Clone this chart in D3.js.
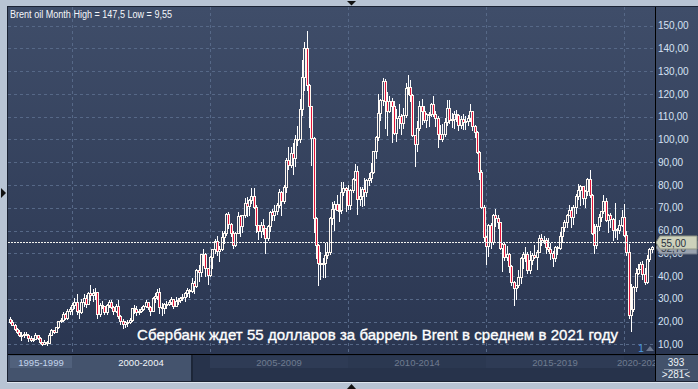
<!DOCTYPE html>
<html>
<head>
<meta charset="utf-8">
<script src="https://cdn.jsdelivr.net/npm/d3@7"></script>
<style>
  body { margin: 0; background: #b8c4d4; }
  svg { display: block; font-family: "Liberation Sans", Arial, sans-serif; }
</style>
</head>
<body>
<svg id="chart" width="698" height="389"></svg>
<script>
// monthly Brent candles [open, high, low, close], Oct 1997 .. Jan 2021
const ohlc1997 = [[21.0,21.9,19.5,19.9],[19.9,20.6,18.3,18.6],[18.6,19.0,16.5,16.9]];
const ohlc1998 = [[16.9,17.3,14.9,15.6],[15.6,16.2,13.6,14.0],[14.0,15.5,11.9,14.2],[14.2,15.3,13.0,14.7],[14.7,15.4,13.9,14.3],[14.3,14.4,11.6,12.7],[12.7,13.5,11.6,12.0],[12.0,12.6,11.3,12.3],[12.3,15.1,12.3,14.0],[14.0,14.3,12.2,12.8],[12.8,13.0,10.6,10.9],[10.9,11.2,9.55,10.1]];
const ohlc1999 = [[10.1,12.1,10.0,11.2],[11.2,11.5,9.9,10.4],[10.4,14.8,10.4,14.3],[14.3,16.9,14.0,16.5],[16.5,16.5,14.9,15.3],[15.3,17.8,15.2,17.6],[17.6,20.4,17.3,20.1],[20.1,21.5,19.7,20.5],[20.5,24.2,20.3,23.5],[23.5,23.9,20.9,21.5],[21.5,25.3,21.3,24.8],[24.8,26.6,23.2,25.5]];
const ohlc2000 = [[25.5,28.0,23.4,27.1],[27.1,30.5,26.0,28.7],[28.7,32.0,23.5,24.8],[24.8,25.0,21.5,24.0],[24.0,29.8,23.8,28.8],[28.8,32.0,27.0,30.4],[30.4,31.5,26.5,27.8],[27.8,32.8,27.5,32.5],[32.5,36.0,29.5,31.5],[31.5,34.5,29.0,32.6],[32.6,34.8,30.0,32.8],[32.8,32.9,21.5,23.2]];
const ohlc2001 = [[23.2,28.2,22.5,27.3],[27.3,29.0,26.0,26.7],[26.7,26.8,23.4,24.3],[24.3,27.9,23.2,27.4],[27.4,29.6,26.3,28.4],[28.4,29.6,26.0,26.6],[26.6,26.8,23.5,24.5],[24.5,27.6,24.2,26.7],[26.7,29.5,21.7,22.4],[22.4,22.8,19.0,20.3],[20.3,21.3,17.3,18.9],[18.9,20.4,17.8,19.8]];
const ohlc2002 = [[19.8,20.5,18.2,19.9],[19.9,21.5,19.3,20.8],[20.8,26.1,20.4,25.8],[25.8,27.3,23.8,25.6],[25.6,27.0,23.0,24.1],[24.1,25.4,23.5,24.5],[24.5,26.4,24.1,25.6],[25.6,27.1,25.2,26.8],[26.8,29.3,26.4,28.4],[28.4,28.8,25.6,26.4],[26.4,26.8,22.9,24.8],[24.8,31.0,24.6,30.3]];
const ohlc2003 = [[30.3,32.7,28.5,31.4],[31.4,34.1,30.1,32.9],[32.9,34.6,23.8,26.5],[26.5,28.2,23.0,25.8],[25.8,28.2,23.7,27.9],[27.9,29.0,26.0,27.5],[27.5,29.3,27.2,28.6],[28.6,30.9,27.8,29.7],[29.7,29.8,25.9,27.0],[27.0,30.9,26.9,28.9],[28.9,30.5,27.6,29.6],[29.6,30.6,28.5,30.2]];
const ohlc2004 = [[30.2,31.9,29.4,30.8],[30.8,32.8,29.1,32.6],[32.6,34.6,31.3,33.9],[33.9,34.5,30.6,33.5],[33.5,39.3,33.1,37.1],[37.1,38.0,32.6,35.4],[35.4,42.9,35.1,42.7],[42.7,45.0,38.0,41.7],[41.7,49.8,40.0,49.6],[49.6,52.0,45.0,49.8],[49.8,49.9,40.0,43.6],[43.6,43.7,36.5,40.5]];
const ohlc2005 = [[40.5,48.8,39.8,48.2],[48.2,52.0,43.5,51.8],[51.8,56.2,50.2,55.5],[55.5,57.5,49.3,51.2],[51.2,53.0,46.8,51.9],[51.9,60.0,51.3,57.1],[57.1,59.9,54.6,58.8],[58.8,67.8,58.1,67.2],[67.2,68.0,61.0,62.8],[62.8,63.3,57.6,59.1],[59.1,59.6,52.4,53.6],[53.6,59.4,53.4,58.9]];
const ohlc2006 = [[58.9,68.0,58.7,66.5],[66.5,66.9,57.5,61.8],[61.8,67.0,59.3,66.9],[66.9,74.5,66.0,72.0],[72.0,74.9,66.4,70.8],[70.8,73.9,66.6,73.6],[73.6,78.6,72.1,75.3],[75.3,78.7,69.7,70.3],[70.3,71.0,59.5,62.5],[62.5,62.6,56.4,59.9],[59.9,63.6,57.2,62.3],[62.3,65.0,58.3,60.9]];
const ohlc2007 = [[60.9,61.3,49.9,56.6],[56.6,62.5,55.9,61.9],[61.9,68.5,59.8,68.1],[68.1,69.6,64.6,66.9],[66.9,71.2,64.6,68.4],[68.4,72.0,67.2,71.4],[71.4,78.4,70.5,76.9],[76.9,77.5,66.6,73.0],[73.0,80.2,72.2,79.2],[79.2,91.9,76.8,91.0],[91.0,96.7,87.1,88.6],[88.6,96.6,87.9,93.9]];
const ohlc2008 = [[93.9,98.5,84.8,91.8],[91.8,101.8,88.5,100.1],[100.1,106.1,97.7,100.3],[100.3,117.6,98.9,113.5],[113.5,135.1,110.6,127.4],[127.4,142.7,121.8,140.0],[140.0,147.5,121.6,124.1],[124.1,124.3,105.6,114.6],[114.6,114.8,88.9,100.7],[100.7,101.0,59.4,65.3],[65.3,66.0,47.8,53.5],[53.5,54.2,36.2,45.6]];
const ohlc2009 = [[45.6,50.5,38.8,45.9],[45.9,47.9,39.5,45.6],[45.6,54.6,39.4,49.2],[49.2,54.5,47.9,50.6],[50.6,66.1,49.8,65.4],[65.4,72.4,62.7,69.3],[69.3,72.8,60.2,71.7],[71.7,75.6,68.8,69.0],[69.0,71.8,64.1,69.1],[69.1,81.3,67.9,77.0],[77.0,81.5,75.5,78.5],[78.5,79.1,68.6,77.9]];
const ohlc2010 = [[77.9,80.1,69.6,71.2],[71.2,78.2,69.6,77.6],[77.6,83.1,76.7,82.7],[82.7,89.0,82.3,86.2],[86.2,88.2,67.2,74.0],[74.0,79.3,71.0,75.0],[75.0,78.9,70.9,78.4],[78.4,83.2,71.3,76.9],[76.9,82.6,75.0,82.3],[82.3,85.3,80.0,83.2],[83.2,89.8,81.2,85.9],[85.9,95.0,85.1,94.8]];
const ohlc2011 = [[94.8,101.7,92.0,101.0],[101.0,119.8,99.6,111.8],[111.8,117.8,108.5,117.4],[117.4,127.0,115.2,125.9],[125.9,126.6,105.0,116.7],[116.7,121.0,102.0,112.5],[112.5,119.0,111.9,116.7],[116.7,118.0,98.7,114.9],[114.9,117.0,102.6,102.8],[102.8,113.5,99.3,109.6],[109.6,115.6,104.9,110.5],[110.5,111.0,102.4,107.4]];
const ohlc2012 = [[107.4,114.0,105.0,110.9],[110.9,125.0,110.0,122.7],[122.7,128.4,120.0,122.9],[122.9,126.0,117.0,119.5],[119.5,119.8,101.6,101.9],[101.9,102.0,88.5,97.8],[97.8,108.0,95.0,105.0],[105.0,116.9,104.3,114.6],[114.6,117.9,107.0,112.4],[112.4,114.8,107.6,108.7],[108.7,111.5,105.5,111.2],[111.2,112.0,106.0,111.1]];
const ohlc2013 = [[111.1,116.0,110.3,115.6],[115.6,119.2,110.4,111.4],[111.4,112.5,106.0,109.5],[109.5,110.2,96.8,102.4],[102.4,106.2,100.0,100.4],[100.4,106.6,99.3,102.2],[102.2,109.3,101.6,107.7],[107.7,117.3,106.5,114.0],[114.0,117.3,107.3,108.4],[108.4,111.8,105.4,108.8],[108.8,112.6,104.9,111.0],[111.0,112.8,107.9,110.8]];
const ohlc2014 = [[110.8,111.0,104.3,106.4],[106.4,110.5,105.2,109.1],[109.1,111.0,104.8,107.8],[107.8,110.3,104.6,108.1],[108.1,110.6,106.3,109.4],[109.4,115.7,108.1,112.4],[112.4,112.6,104.2,106.0],[106.0,106.2,101.3,103.2],[103.2,103.6,94.1,94.7],[94.7,95.0,82.6,85.9],[85.9,86.4,69.8,70.2],[70.2,71.3,55.2,57.3]];
const ohlc2015 = [[57.3,57.8,45.2,53.0],[53.0,63.0,48.6,62.6],[62.6,63.2,52.5,55.1],[55.1,67.1,54.1,66.8],[66.8,69.6,62.0,65.6],[65.6,66.6,61.0,63.6],[63.6,63.9,52.0,52.2],[52.2,54.7,42.2,54.2],[54.2,54.5,46.9,48.4],[48.4,53.1,47.0,49.6],[49.6,50.1,41.9,44.6],[44.6,44.9,36.0,37.3]];
const ohlc2016 = [[37.3,38.0,27.1,34.7],[34.7,36.1,30.0,36.0],[36.0,42.5,35.2,39.6],[39.6,48.5,36.8,48.1],[48.1,50.5,43.4,49.7],[49.7,52.9,46.7,49.7],[49.7,50.6,41.5,42.5],[42.5,50.9,41.5,47.0],[47.0,49.9,45.1,49.1],[49.1,53.7,47.9,48.3],[48.3,51.4,43.1,50.5],[50.5,57.9,50.5,56.8]];
const ohlc2017 = [[56.8,58.4,53.6,55.7],[55.7,57.5,54.5,56.0],[56.0,56.8,50.3,52.8],[52.8,56.7,50.8,51.7],[51.7,54.7,47.6,50.3],[50.3,50.9,44.4,47.9],[47.9,53.0,46.6,52.7],[52.7,53.1,49.7,52.4],[52.4,59.5,52.0,57.5],[57.5,61.7,54.9,61.4],[61.4,64.7,59.9,63.6],[63.6,67.1,61.6,66.9]];
const ohlc2018 = [[66.9,71.3,66.6,69.1],[69.1,70.5,61.6,65.8],[65.8,71.0,62.9,70.3],[70.3,75.9,67.5,75.2],[75.2,80.5,73.8,77.6],[77.6,80.0,71.4,79.4],[79.4,79.5,71.8,74.3],[74.3,78.0,70.3,77.4],[77.4,83.0,75.7,82.7],[82.7,86.7,74.7,75.5],[75.5,76.1,58.4,58.7],[58.7,63.0,50.0,53.8]];
const ohlc2019 = [[53.8,62.7,52.5,61.9],[61.9,67.3,60.3,66.0],[66.0,68.7,64.3,68.4],[68.4,75.6,67.8,72.8],[72.8,74.5,64.1,64.5],[64.5,67.2,59.5,66.6],[66.6,67.5,61.5,65.2],[65.2,65.6,55.9,60.4],[60.4,71.9,57.2,60.8],[60.8,61.1,56.2,60.2],[60.2,64.5,59.1,62.4],[62.4,68.9,62.1,66.0]];
const ohlc2020 = [[66.0,71.8,57.7,58.2],[58.2,59.9,49.1,50.5],[50.5,53.9,21.7,22.7],[22.7,36.3,15.98,25.3],[25.3,35.8,24.7,35.3],[35.3,43.4,33.6,41.2],[41.2,45.2,41.0,43.3],[43.3,46.2,42.9,45.3],[45.3,46.5,38.8,40.9],[40.9,43.5,36.6,37.5],[37.5,49.1,36.9,47.6],[47.6,52.5,46.5,51.8]];
const ohlc2021 = [[51.8,53.4,50.4,52.7]];

const yTicks = [10, 20, 30, 40, 50, 60, 70, 80, 90, 100, 110, 120, 130, 140, 150];
const periodLabels = ["1995-1999", "2000-2004", "2005-2009", "2010-2014", "2015-2019", "2020-202"];
const periodStartIdx = [-33, 27, 87, 147, 207, 267];   // month index of Jan of each period (0 = Oct 1997)
const targetLevel = 55;
const lastPrice = 52.70;
const titleText = "Brent oil Month High = 147,5 Low = 9,55";
const headline = "Сбербанк ждет 55 долларов за баррель Brent в среднем в 2021 году";

const candles = [].concat(ohlc1997, ohlc1998, ohlc1999, ohlc2000, ohlc2001, ohlc2002, ohlc2003,
  ohlc2004, ohlc2005, ohlc2006, ohlc2007, ohlc2008, ohlc2009, ohlc2010, ohlc2011, ohlc2012,
  ohlc2013, ohlc2014, ohlc2015, ohlc2016, ohlc2017, ohlc2018, ohlc2019, ohlc2020, ohlc2021)
  .map((d, i) => ({ i: i, o: d[0], h: d[1], l: d[2], c: d[3] }));

const svg = d3.select('#chart');
const W = 698, H = 389;
const plotL = 8, plotR = 655, plotT = 7, plotB = 354, stripB = 381;

let x = d3.scaleLinear().domain([27, 267]).range([72, 624]),
    y = d3.scaleLinear().domain([5.74, 158.2]).range([plotB, plotT]);

let defs = svg.append('defs');
let grad = defs.append('linearGradient').attr('id', 'bg').attr('x1', 0).attr('y1', 0).attr('x2', 0).attr('y2', 1);
grad.append('stop').attr('offset', '0%').attr('stop-color', '#3f4d69');
grad.append('stop').attr('offset', '100%').attr('stop-color', '#2a3651');
defs.append('clipPath').attr('id', 'plotclip').append('rect')
  .attr('x', plotL).attr('y', plotT).attr('width', plotR - plotL).attr('height', plotB - plotT);
defs.append('clipPath').attr('id', 'stripclip').append('rect')
  .attr('x', plotL).attr('y', plotB).attr('width', plotR - plotL).attr('height', 30);
defs.append('clipPath').attr('id', 'tagclip').append('rect')
  .attr('x', plotR).attr('y', Math.round(y(targetLevel)) + 7).attr('width', W - plotR).attr('height', 20);

// outer frame
svg.append('rect').attr('width', W).attr('height', H).attr('fill', '#b8c4d4');
svg.append('rect').attr('x', 7).attr('y', 6).attr('width', W - 7).attr('height', stripB - 5).attr('fill', '#1b2334');
svg.append('rect').attr('x', plotL).attr('y', plotT).attr('width', W - plotL).attr('height', plotB - plotT).attr('fill', 'url(#bg)');
svg.append('line').attr('x1', 7).attr('x2', W).attr('y1', stripB + 1.5).attr('y2', stripB + 1.5).attr('stroke', '#dfe6ef');

// grid
let grid = svg.append('g').attr('shape-rendering', 'crispEdges');
grid.selectAll('line.h').data(yTicks).enter().append('line')
  .attr('x1', plotL).attr('x2', plotR)
  .attr('y1', d => Math.round(y(d)) + 0.5).attr('y2', d => Math.round(y(d)) + 0.5)
  .attr('stroke', '#566887').attr('stroke-dasharray', '3,3');
grid.selectAll('line.v').data(periodStartIdx.slice(1)).enter().append('line')
  .attr('x1', d => Math.round(x(d)) + 0.5).attr('x2', d => Math.round(x(d)) + 0.5)
  .attr('y1', plotT).attr('y2', plotB)
  .attr('stroke', '#566887').attr('stroke-dasharray', '3,3');

// candles: hollow white when rising, red body when falling
let cg = svg.append('g').attr('clip-path', 'url(#plotclip)').attr('shape-rendering', 'crispEdges');
candles.forEach(function(d){
  let cx = Math.round(x(d.i)),
      top = Math.round(y(Math.max(d.o, d.c))),
      bot = Math.round(y(Math.min(d.o, d.c)));
  if (bot - top < 1) bot = top + 1;
  cg.append('line').attr('x1', cx + 0.5).attr('x2', cx + 0.5)
    .attr('y1', Math.round(y(d.h))).attr('y2', top).attr('stroke', '#ffffff');
  cg.append('line').attr('x1', cx + 0.5).attr('x2', cx + 0.5)
    .attr('y1', bot + 1).attr('y2', Math.round(y(d.l)) + 1).attr('stroke', '#ffffff');
  cg.append('rect').attr('x', cx - 0.5).attr('width', 2)
    .attr('y', top + 0.5).attr('height', bot - top)
    .attr('fill', d.c < d.o ? '#e3143c' : 'none')
    .attr('stroke', '#fff8f0').attr('stroke-width', 1);
});

// target level line
svg.append('line').attr('x1', plotL).attr('x2', plotR)
  .attr('y1', Math.round(y(targetLevel)) + 0.5).attr('y2', Math.round(y(targetLevel)) + 0.5)
  .attr('stroke', '#f2f2ee').attr('stroke-dasharray', '2,1').attr('shape-rendering', 'crispEdges');

// headline
svg.append('text').attr('x', 137).attr('y', 340)
  .attr('textLength', 481).attr('lengthAdjust', 'spacing')
  .attr('fill', '#ffffff').attr('font-size', 15)
  .attr('stroke', '#ffffff').attr('stroke-width', 0.35)
  .text(headline);

// title
svg.append('text').attr('x', 10).attr('y', 18)
  .attr('fill', '#f4f6fa').attr('font-size', 10)
  .attr('textLength', 162).attr('lengthAdjust', 'spacingAndGlyphs')
  .text(titleText);

// right axis
let axis = svg.append('g').attr('transform', 'translate(' + plotR + ',0)')
  .call(d3.axisRight(y).tickValues(yTicks).tickSize(0).tickPadding(3)
    .tickFormat(d => d3.format('.2f')(d).replace('.', ',')));
axis.select('.domain').remove();
axis.selectAll('text').attr('fill', '#d6e2f4').attr('font-size', 10)
  .attr('font-family', '"Liberation Sans", Arial, sans-serif');

// price tags on the axis
function priceTag(v, fill, stroke, color, clip){
  let cy = Math.round(y(v)) + 0.5;
  let g = svg.append('g');
  g.append('path')
    .attr('d', 'M' + (plotR + 1) + ',' + cy + ' L' + (plotR + 5) + ',' + (cy - 6.5) + ' L' + (W - 1) + ',' + (cy - 6.5) +
               ' L' + (W - 1) + ',' + (cy + 6.5) + ' L' + (plotR + 5) + ',' + (cy + 6.5) + ' Z')
    .attr('fill', fill).attr('stroke', stroke);
  let t = g.append('text').attr('x', plotR + 6).attr('y', cy + 4)
    .attr('fill', color).attr('font-size', 10).text(d3.format('.2f')(v).replace('.', ','));
  if (clip) t.attr('clip-path', 'url(#' + clip + ')');
}
priceTag(lastPrice, '#9aa2af', '#6f7785', '#2d3442', 'tagclip');
priceTag(targetLevel, '#cdd1bb', '#8e9486', '#27303d');

// period strip
let strip = svg.append('g').attr('shape-rendering', 'crispEdges');
strip.append('rect').attr('x', plotL).attr('y', plotB + 1).attr('width', W - plotL).attr('height', stripB - plotB - 1).attr('fill', '#27334b');
strip.append('rect').attr('x', plotL).attr('y', plotB + 1).attr('width', 183).attr('height', stripB - plotB - 1).attr('fill', '#44536d');
strip.append('rect').attr('x', 191).attr('y', plotB + 1).attr('width', 2).attr('height', stripB - plotB - 1).attr('fill', '#1c2638');
strip.append('rect').attr('x', plotR).attr('y', plotB + 1).attr('width', W - plotR).attr('height', stripB - plotB - 1).attr('fill', '#43526b');

periodLabels.forEach(function(lbl, k){
  let x0 = k === 0 ? 10 : Math.round(x(periodStartIdx[k])),
      x1 = k === periodLabels.length - 1 ? plotR : Math.round(x(periodStartIdx[k + 1] || 327));
  if (k === 0) x1 = 72;
  if (k !== 1) {
    strip.append('rect').attr('x', x0).attr('y', plotB + 2).attr('width', x1 - x0).attr('height', 12)
      .attr('fill', k === 0 ? '#51617c' : (k % 2 ? '#2b3851' : '#2e3b55'));
  }
  let tx = k === 1 ? 141 : (x0 + x1) / 2;
  if (k === periodLabels.length - 1) tx = 637;
  strip.append('text').attr('x', tx).attr('y', plotB + 12).attr('text-anchor', 'middle')
    .attr('font-size', 9.5)
    .attr('fill', k === 0 ? '#c3d4ec' : (k === 1 ? '#f2f5fa' : '#6f7b90'))
    .attr('clip-path', 'url(#stripclip)')
    .text(lbl);
});

svg.append('text').attr('x', 676).attr('y', plotB + 12).attr('text-anchor', 'middle')
  .attr('font-size', 10).attr('fill', '#eef2f8').text('393');
svg.append('line').attr('x1', 664).attr('x2', 688).attr('y1', plotB + 15.5).attr('y2', plotB + 15.5).attr('stroke', '#8a96a8');
svg.append('text').attr('x', 676).attr('y', plotB + 24).attr('text-anchor', 'middle')
  .attr('font-size', 10).attr('fill', '#eef2f8').text('>281<');

// small bits near the axis
svg.append('text').attr('x', 641).attr('y', 352).attr('text-anchor', 'middle')
  .attr('font-size', 10).attr('fill', '#4a9be2').text('1');
svg.append('path').attr('d', 'M646,351 L650,346 L654,351 Z').attr('fill', '#6c7890');

// axis separators
svg.append('line').attr('x1', plotR + 0.5).attr('x2', plotR + 0.5).attr('y1', plotT).attr('y2', stripB).attr('stroke', '#000');
svg.append('line').attr('x1', plotL).attr('x2', W).attr('y1', plotB + 0.5).attr('y2', plotB + 0.5).attr('stroke', '#000');
svg.append('line').attr('x1', plotL - 0.5).attr('x2', plotL - 0.5).attr('y1', plotT).attr('y2', stripB).attr('stroke', '#1a2233');

// frame arrows
svg.append('path').attr('d', 'M347,1 L356,1 L351.5,5.5 Z').attr('fill', '#111');
svg.append('path').attr('d', 'M347,389 L356,389 L351.5,384 Z').attr('fill', '#111');
svg.append('path').attr('d', 'M1,188 L6,193 L1,198 Z').attr('fill', '#111');
</script>
</body>
</html>
